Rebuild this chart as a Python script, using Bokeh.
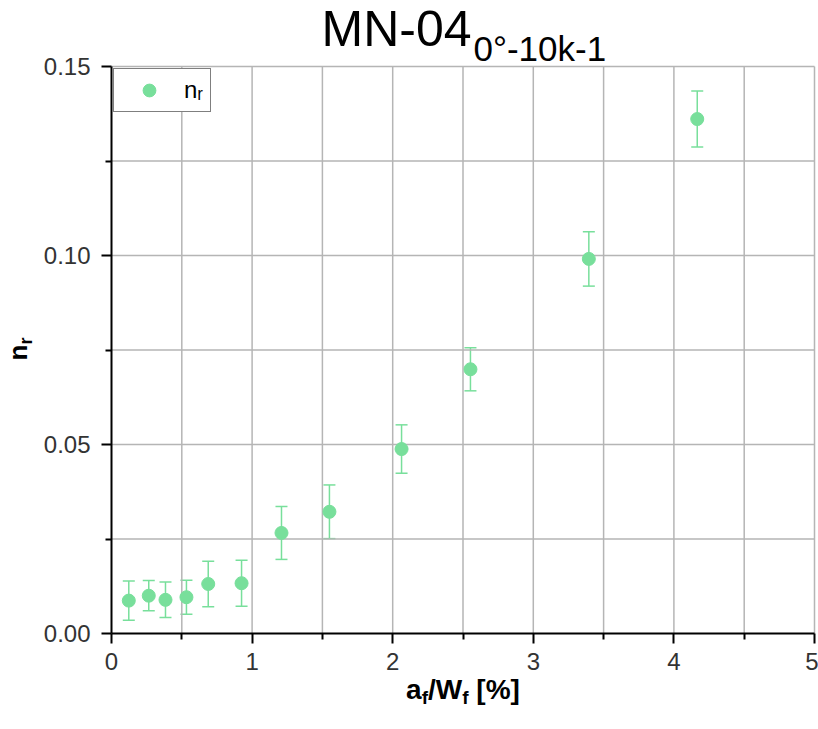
from math import pi
from bokeh.plotting import figure
from bokeh.models import (ColumnDataSource, Whisker, TeeHead, FixedTicker, Label,
                          Legend, LegendItem, NumeralTickFormatter, Range1d)
from bokeh.embed import file_html
from bokeh.resources import INLINE

# ---- data ----
af_wf = [0.123, 0.265, 0.384, 0.533, 0.688, 0.925, 1.209, 1.55, 2.063, 2.553, 3.395, 4.166]
n_r = [0.0087, 0.0100, 0.0089, 0.0096, 0.0131, 0.0133, 0.0266, 0.0322, 0.0488, 0.0699, 0.0991, 0.1361]
n_r_err = [0.0052, 0.0040, 0.0047, 0.0045, 0.0060, 0.0061, 0.0070, 0.0071, 0.0064, 0.0057, 0.0072, 0.0074]
x_major = [0, 1, 2, 3, 4, 5]
x_minor = [0.5, 1.5, 2.5, 3.5, 4.5]
y_major = [0.0, 0.05, 0.10, 0.15]
y_minor = [0.025, 0.075, 0.125]
title_main = "MN-04"
title_sub = "0°-10k-1"
legend_label = "n\u1d63"          # n with subscript r

# ---- layout: the frame is the whole canvas; axes are pinned with fixed_location ----
W, H = 818, 729
PL, PR, PT, PB = 111, 814, 66, 633          # pixel box of the data area
X0, X1 = x_major[0], x_major[-1]
Y0, Y1 = y_major[0], y_major[-1]
KX = (X1 - X0) / (PR - PL)
KY = (Y1 - Y0) / (PB - PT)
FONT = "Liberation Sans"
GREEN = "#78df9b"
GRID = "#b5b5b5"
BASE_SHIFT = 0.4   # Label "alphabetic" anchor sits this many em above the glyph baseline


def dx(px):
    return X0 + (px - PL) * KX


def dy(py):
    return Y0 + (PB - py) * KY


p = figure(width=W, height=H,
           x_range=Range1d(dx(0), dx(W)), y_range=Range1d(dy(H), dy(0)),
           output_backend="svg", toolbar_location=None, title=None, min_border=0)
p.background_fill_color = "white"
p.border_fill_color = "white"
p.outline_line_color = None
p.xgrid.visible = False
p.ygrid.visible = False

# grid lines at every major and minor tick (limited to the data box)
gx = [v for v in x_major + x_minor if v != X0]
gy = [v for v in y_major + y_minor if v != Y0]
p.segment(x0=gx, y0=[Y0] * len(gx), x1=gx, y1=[Y1] * len(gx), line_color=GRID, line_width=1.5)
p.segment(x0=[X0] * len(gy), y0=gy, x1=[X1] * len(gy), y1=gy, line_color=GRID, line_width=1.5)

src = ColumnDataSource(dict(x=af_wf, y=n_r,
                            upper=[v + e for v, e in zip(n_r, n_r_err)],
                            lower=[v - e for v, e in zip(n_r, n_r_err)]))

wh = Whisker(source=src, base="x", upper="upper", lower="lower", dimension="height",
             line_color=GREEN, line_width=1.5,
             upper_head=TeeHead(size=12, line_color=GREEN, line_width=1.5),
             lower_head=TeeHead(size=12, line_color=GREEN, line_width=1.5))
p.add_layout(wh)
r = p.scatter("x", "y", source=src, size=13, fill_color=GREEN, line_color=GREEN)

# axes
for ax, maj, mnr, fmt, loc, bnd in ((p.xaxis[0], x_major, x_minor, "0", Y0, (X0, X1)),
                                    (p.yaxis[0], y_major, y_minor, "0.00", X0, (Y0, Y1))):
    ax.fixed_location = loc
    ax.bounds = bnd
    ax.ticker = FixedTicker(ticks=maj, minor_ticks=mnr)
    ax.formatter = NumeralTickFormatter(format=fmt)
    ax.axis_line_color = "black"
    ax.axis_line_width = 2
    ax.major_tick_line_color = "black"
    ax.major_tick_line_width = 2
    ax.minor_tick_line_color = "black"
    ax.minor_tick_line_width = 2
    ax.major_tick_in = 0
    ax.major_tick_out = 10
    ax.minor_tick_in = 0
    ax.minor_tick_out = 6
    ax.major_label_text_font = FONT
    ax.major_label_text_font_size = "24px"
    ax.major_label_text_color = "#333333"
p.xaxis[0].major_label_standoff = 9
p.yaxis[0].major_label_standoff = 11

# legend
leg = Legend(items=[LegendItem(label=legend_label, renderers=[r])],
             location=(113, H - 112), margin=0, padding=5, spacing=0,
             glyph_width=60, glyph_height=32, label_standoff=5,
             label_width=21, label_height=32,
             label_text_font=FONT, label_text_font_size="24px", label_text_color="black",
             border_line_color="black", border_line_width=1.5,
             background_fill_color="white", background_fill_alpha=1)
p.add_layout(leg)


def text_at(px, py, txt, size, bold=False, angle=0.0, color="black"):
    """Place text whose glyph baseline starts at pixel (px, py)."""
    if angle:
        ax_, ay_ = px - BASE_SHIFT * size, py
    else:
        ax_, ay_ = px, py - BASE_SHIFT * size
    p.add_layout(Label(x=dx(ax_), y=dy(ay_), text=txt, angle=angle, text_font=FONT,
                       text_font_style="bold" if bold else "normal",
                       text_font_size=f"{size}px", text_color=color,
                       text_baseline="alphabetic", text_align="left"))


# title with subscript
text_at(321, 48, title_main, 50)
text_at(473, 62, title_sub, 35)

# x axis label: a_f/W_f [%]
S, S2 = 28, 19
pieces = [("a", S, 0), ("f", S2, 5), ("/W", S, 0), ("f", S2, 5), (" ", S, 0), ("[%]", S, 0)]
bw = {"a": 0.556, "f": 0.333, "/": 0.278, "W": 0.944, " ": 0.278, "[": 0.333, "%": 0.889, "]": 0.333}
total = sum(sum(bw[c] for c in t) * s for t, s, _ in pieces)
cx = (PL + PR) / 2 - total / 2
for t, s, sh in pieces:
    if t.strip():
        text_at(cx, 700 + sh, t, s, bold=True)
    cx += sum(bw[c] for c in t) * s

# y axis label: n_r (rotated)
text_at(28, 360, "n", 26, bold=True, angle=pi / 2)
text_at(33, 360 - 0.611 * 26, "r", 18, bold=True, angle=pi / 2)

open("out.html", "w").write(file_html(p, INLINE))
